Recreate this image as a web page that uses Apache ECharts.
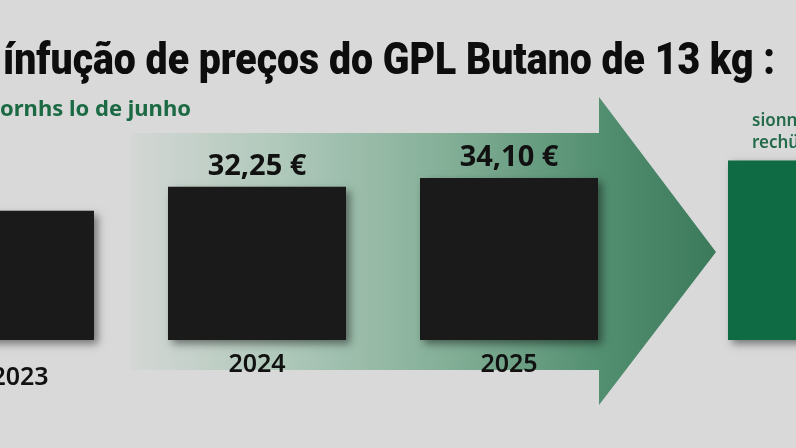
<!DOCTYPE html>
<html>
<head>
<meta charset="utf-8">
<script src="https://cdn.jsdelivr.net/npm/echarts@6/dist/echarts.min.js"></script>
<style>
  html, body { margin: 0; padding: 0; background: #d9d9d9; }
  #chart { width: 796px; height: 448px; }
</style>
</head>
<body>
<div id="chart"></div>
<script>
// dados
const years = ['2023', '2024', '2025']
const prices = [27.2, 32.25, 34.10]
const showPrice = [false, true, true]
const nextYear = ['2026']
const nextPrice = [37.8]

const titleText = 'ínfução de preços do GPL Butano de 13 kg :'
const subText = 'ornhs lo de junho'
const sideLines = ['sionn', 'rechü']

function fmtPrice(v) {
  return v.toFixed(2).replace('.', ',') + ' €'
}

// largura do título no original ~772px, fonte condensada: esticar/encolher
const titleFont = '900 45px Roboto'
const ctx = document.createElement('canvas').getContext('2d')
ctx.font = titleFont
const titleScale = 772 / ctx.measureText(titleText).width

const barShadow = {
  shadowBlur: 8,
  shadowOffsetX: 4,
  shadowOffsetY: 4,
  shadowColor: 'rgba(0, 0, 0, 0.45)'
}

const myChart = echarts.init(document.getElementById('chart'))

const option = {
  backgroundColor: '#d9d9d9',
  animation: false,
  grid: [
    { left: 5, width: 504, top: 55, bottom: 108, outerBoundsMode: 'none', containLabel: false },
    { left: 728, width: 178, top: 55, bottom: 108, outerBoundsMode: 'none', containLabel: false }
  ],
  xAxis: [
    {
      gridIndex: 0,
      type: 'category',
      boundaryGap: false,
      data: years.map((y, i) => i === 0 ? { value: y, textStyle: { padding: [0, 0, 0, 30] } } : y),
      axisLine: { show: false },
      axisTick: { show: false },
      splitLine: { show: false },
      axisLabel: {
        margin: 25,
        verticalAlign: 'middle',
        fontFamily: 'Noto Sans',
        fontWeight: 600,
        fontSize: 25,
        color: '#111'
      }
    },
    {
      gridIndex: 1,
      type: 'category',
      data: nextYear,
      axisLine: { show: false },
      axisTick: { show: false },
      axisLabel: { show: false }
    }
  ],
  yAxis: [
    { gridIndex: 0, type: 'value', min: 0, max: 60, show: false },
    { gridIndex: 1, type: 'value', min: 0, max: 60, show: false }
  ],
  graphic: [
    {
      // seta de fundo
      type: 'polygon',
      z: 0,
      silent: true,
      shape: {
        points: [[130, 133], [599, 133], [599, 97], [716, 252], [599, 405], [599, 370], [130, 370]]
      },
      style: {
        fill: new echarts.graphic.LinearGradient(0, 0, 1, 0, [
          { offset: 0, color: '#d4d7d5' },
          { offset: 0.25, color: '#b0c9bb' },
          { offset: 0.55, color: '#82ae96' },
          { offset: 0.8, color: '#538f71' },
          { offset: 1, color: '#3b7a5b' }
        ])
      }
    },
    {
      type: 'text',
      z: 10,
      x: 3,
      y: 63,
      scaleX: titleScale,
      style: {
        text: titleText,
        font: titleFont,
        fill: '#0d0d0d',
        verticalAlign: 'middle'
      }
    },
    {
      type: 'text',
      z: 10,
      left: 0,
      top: 99,
      style: {
        text: subText,
        fontFamily: 'Noto Sans',
        fontWeight: 'bold',
        fontSize: 22,
        fill: '#1b6a44'
      }
    },
    {
      type: 'text',
      z: 10,
      left: 752,
      top: 110,
      style: {
        text: sideLines.join('\n'),
        fontFamily: 'Noto Sans',
        fontWeight: 600,
        fontSize: 17,
        lineHeight: 22,
        fill: '#246b4a'
      }
    }
  ],
  series: [
    {
      type: 'bar',
      xAxisIndex: 0,
      yAxisIndex: 0,
      z: 5,
      barWidth: 178,
      data: prices.map((v, i) => ({
        value: v,
        label: { show: showPrice[i] }
      })),
      itemStyle: Object.assign({ color: '#1b1a1b' }, barShadow),
      label: {
        position: 'top',
        distance: 6,
        fontFamily: 'Noto Sans',
        fontWeight: 'bold',
        fontSize: 29,
        color: '#111',
        formatter: (p) => fmtPrice(p.value)
      }
    },
    {
      type: 'bar',
      xAxisIndex: 1,
      yAxisIndex: 1,
      z: 5,
      barWidth: 178,
      data: nextPrice,
      itemStyle: Object.assign({ color: '#0f6b43' }, barShadow)
    }
  ]
}

myChart.setOption(option)
</script>
</body>
</html>
